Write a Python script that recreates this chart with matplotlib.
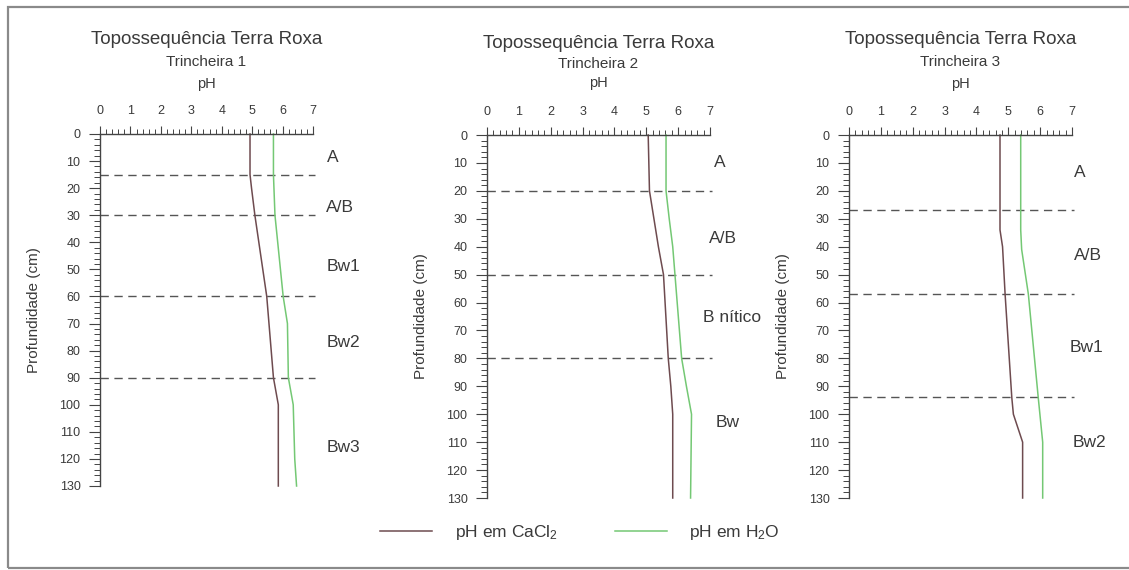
import matplotlib
matplotlib.use("Agg")
import matplotlib.pyplot as plt
from matplotlib.lines import Line2D
from matplotlib.patches import Rectangle
from matplotlib.ticker import MultipleLocator

plt.rcParams["font.family"] = ["Liberation Sans", "DejaVu Sans"]
plt.rcParams["mathtext.default"] = "regular"

W, H = 1129, 570

titles = ["Trincheira 1", "Trincheira 2", "Trincheira 3"]

# pH em CaCl2
cacl2_depth = [
    [0, 15, 20, 30, 60, 90, 100, 130],
    [0, 20, 30, 40, 50, 60, 70, 80, 90, 100, 130],
    [0, 34, 40, 57, 94, 100, 110, 130],
]
cacl2_ph = [
    [4.93, 4.93, 4.98, 5.09, 5.48, 5.70, 5.86, 5.86],
    [5.06, 5.10, 5.24, 5.38, 5.54, 5.59, 5.64, 5.69, 5.77, 5.83, 5.83],
    [4.74, 4.74, 4.82, 4.90, 5.11, 5.16, 5.45, 5.45],
]

# pH em H2O
h2o_depth = [
    [0, 15, 30, 60, 70, 90, 100, 120, 130],
    [0, 20, 30, 40, 50, 60, 70, 80, 90, 100, 130],
    [0, 34, 41, 57, 94, 110, 130],
]
h2o_ph = [
    [5.70, 5.70, 5.75, 6.02, 6.16, 6.19, 6.35, 6.40, 6.46],
    [5.62, 5.62, 5.72, 5.83, 5.90, 5.97, 6.04, 6.11, 6.26, 6.42, 6.39],
    [5.39, 5.39, 5.42, 5.63, 5.94, 6.08, 6.08],
]

# limites dos horizontes (cm)
boundaries = [[15, 30, 60, 90], [20, 50, 80], [27, 57, 94]]

horizons = [
    ["A", "A/B", "Bw1", "Bw2", "Bw3"],
    ["A", "A/B", "B nítico", "Bw"],
    ["A", "A/B", "Bw1", "Bw2"],
]
horizon_pos = [
    [(7.66, 8.5), (7.89, 27), (7.99, 49), (7.99, 77), (7.99, 115.6)],
    [(7.31, 10), (7.41, 37), (7.69, 65.5), (7.56, 103)],
    [(7.25, 13.6), (7.5, 43), (7.47, 76), (7.56, 110)],
]

# axes boxes in pixels: left, top, right, bottom
boxes = [(100, 134, 313, 486), (487, 135, 710, 498), (849, 135, 1072, 498)]

c_cacl2 = "#6e4b4f"
c_h2o = "#74c874"
c_text = "#3a3a3a"

fig = plt.figure(figsize=(W / 100, H / 100), dpi=100)
fig.patches.append(Rectangle((8 / W, 1 - 568 / H), 1.2, (568 - 7) / H,
                             transform=fig.transFigure, fill=False,
                             edgecolor="#8a8a8a", lw=1.6))

for i in range(3):
    l, t, r, b = boxes[i]
    ax = fig.add_axes([l / W, 1 - b / H, (r - l) / W, (b - t) / H])
    ax.set_xlim(0, 7)
    ax.set_ylim(130, 0)
    ax.xaxis.tick_top()
    ax.spines["right"].set_visible(False)
    ax.spines["bottom"].set_visible(False)
    for s in ("top", "left"):
        ax.spines[s].set_color("#444444")
        ax.spines[s].set_linewidth(1.0)
    ax.set_xticks(range(0, 8))
    ax.set_yticks(range(0, 131, 10))
    ax.xaxis.set_minor_locator(MultipleLocator(0.2))
    ax.yaxis.set_minor_locator(MultipleLocator(2))
    ax.tick_params(axis="x", which="major", length=6, width=0.8, colors="#444444",
                   labelsize=9, pad=6, labelcolor=c_text)
    ax.tick_params(axis="x", which="minor", length=3.5, width=0.7, colors="#444444")
    ax.tick_params(axis="y", which="major", length=8, width=0.8, colors="#444444",
                   labelsize=9, pad=6, labelcolor=c_text)
    ax.tick_params(axis="y", which="minor", length=4, width=0.7, colors="#444444")
    ax.set_ylabel("Profundidade (cm)", fontsize=11, color=c_text)
    ax.yaxis.set_label_coords(-59 / (r - l), 0.5)

    ax.hlines(boundaries[i], 0, 7.05, colors="#555555", linestyles=(0, (6, 4)),
              lw=1.0, clip_on=False)
    ax.plot(cacl2_ph[i], cacl2_depth[i], color=c_cacl2, lw=1.1, clip_on=False)
    ax.plot(h2o_ph[i], h2o_depth[i], color=c_h2o, lw=1.1, clip_on=False)

    for name, (xp, yp) in zip(horizons[i], horizon_pos[i]):
        ax.text(xp, yp, name, fontsize=12.5, color=c_text, ha="center",
                va="center", clip_on=False)

    cx = (l + r) / 2 / W
    ty = [40, 62, 84] if i != 1 else [44, 64, 83]
    fig.text(cx, 1 - ty[0] / H, "Topossequência Terra Roxa", fontsize=13.5,
             color=c_text, ha="center", va="center")
    fig.text(cx, 1 - ty[1] / H, titles[i], fontsize=11, color=c_text,
             ha="center", va="center")
    fig.text(cx, 1 - ty[2] / H, "pH", fontsize=10.5, color=c_text,
             ha="center", va="center")

handles = [Line2D([], [], color=c_cacl2, lw=1.1),
           Line2D([], [], color=c_h2o, lw=1.1)]
fig.legend(handles, ["pH em CaCl$_2$", "pH em H$_2$O"], loc="center",
           bbox_to_anchor=(580 / W, 1 - 533 / H), ncol=2, frameon=False,
           fontsize=12.5, handlelength=3.0, handletextpad=1.3,
           columnspacing=3.3, labelcolor=c_text)

fig.savefig("out.png", dpi=100)
